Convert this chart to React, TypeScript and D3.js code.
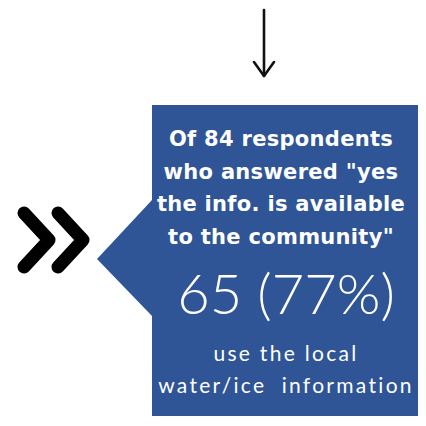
import React from "react";
import * as d3 from "d3";

const totalRespondents = [84];
const usersCount = [65];
const headingLines = [
  "Of 84 respondents",
  'who answered "yes',
  "the info. is available",
  'to the community"',
];
const footerLines = ["use the local", "water/ice  information"];

export default function App() {
  const W = 426;
  const H = 426;
  const pct = d3.format(".0%")(usersCount[0] / totalRespondents[0]);
  const box = { x0: 152, x1: 418, y0: 105, y1: 416 };
  const tri = d3.line()([
    [152, 200],
    [97, 259],
    [152, 316],
  ]);
  const chevron = (dx: number) =>
    d3.line()([
      [24 + dx, 213],
      [49 + dx, 240],
      [24 + dx, 267],
    ]);
  const arrow = d3.line();
  const cx = 281;
  return (
    <svg
      width={W}
      height={H}
      style={{ position: "absolute", left: 0, top: 0 }}
    >
      <rect width={W} height={H} fill="#ffffff" />
      <line x1={264} y1={10} x2={264} y2={76} stroke="#111" strokeWidth={2.6} strokeLinecap="round" />
      <path d={arrow([[254, 62], [264, 76], [274, 62]]) || ""} fill="none" stroke="#111" strokeWidth={2.6} strokeLinecap="round" strokeLinejoin="round" />
      <rect x={box.x0} y={box.y0} width={box.x1 - box.x0} height={box.y1 - box.y0} fill="#2F5597" />
      <path d={(tri || "") + "Z"} fill="#2F5597" />
      {[0, 34].map((dx) => (
        <path key={dx} d={chevron(dx) || ""} fill="none" stroke="#000" strokeWidth={13} strokeLinecap="round" strokeLinejoin="round" />
      ))}
      {headingLines.map((t, i) => (
        <text
          key={t}
          x={cx}
          y={146 + i * 32.5}
          textAnchor="middle"
          fill="#fff"
          fontFamily="'DejaVu Sans', sans-serif"
          fontWeight={700}
          fontSize={21}
          letterSpacing={0.3}
        >
          {t}
        </text>
      ))}
      <text
        x={cx + 5}
        y={314}
        textAnchor="middle"
        fill="#fff"
        fontFamily="Lato, sans-serif"
        fontWeight={300}
        fontSize={56}
      >
        {`${usersCount[0]} (${pct})`}
      </text>
      {footerLines.map((t, i) => (
        <text
          key={t}
          x={cx + 5}
          y={361 + i * 32}
          textAnchor="middle"
          fill="#fff"
          fontFamily="Lato, sans-serif"
          fontWeight={400}
          fontSize={21}
          letterSpacing={2.3}
          style={{ whiteSpace: "pre" }}
        >
          {t}
        </text>
      ))}
    </svg>
  );
}
